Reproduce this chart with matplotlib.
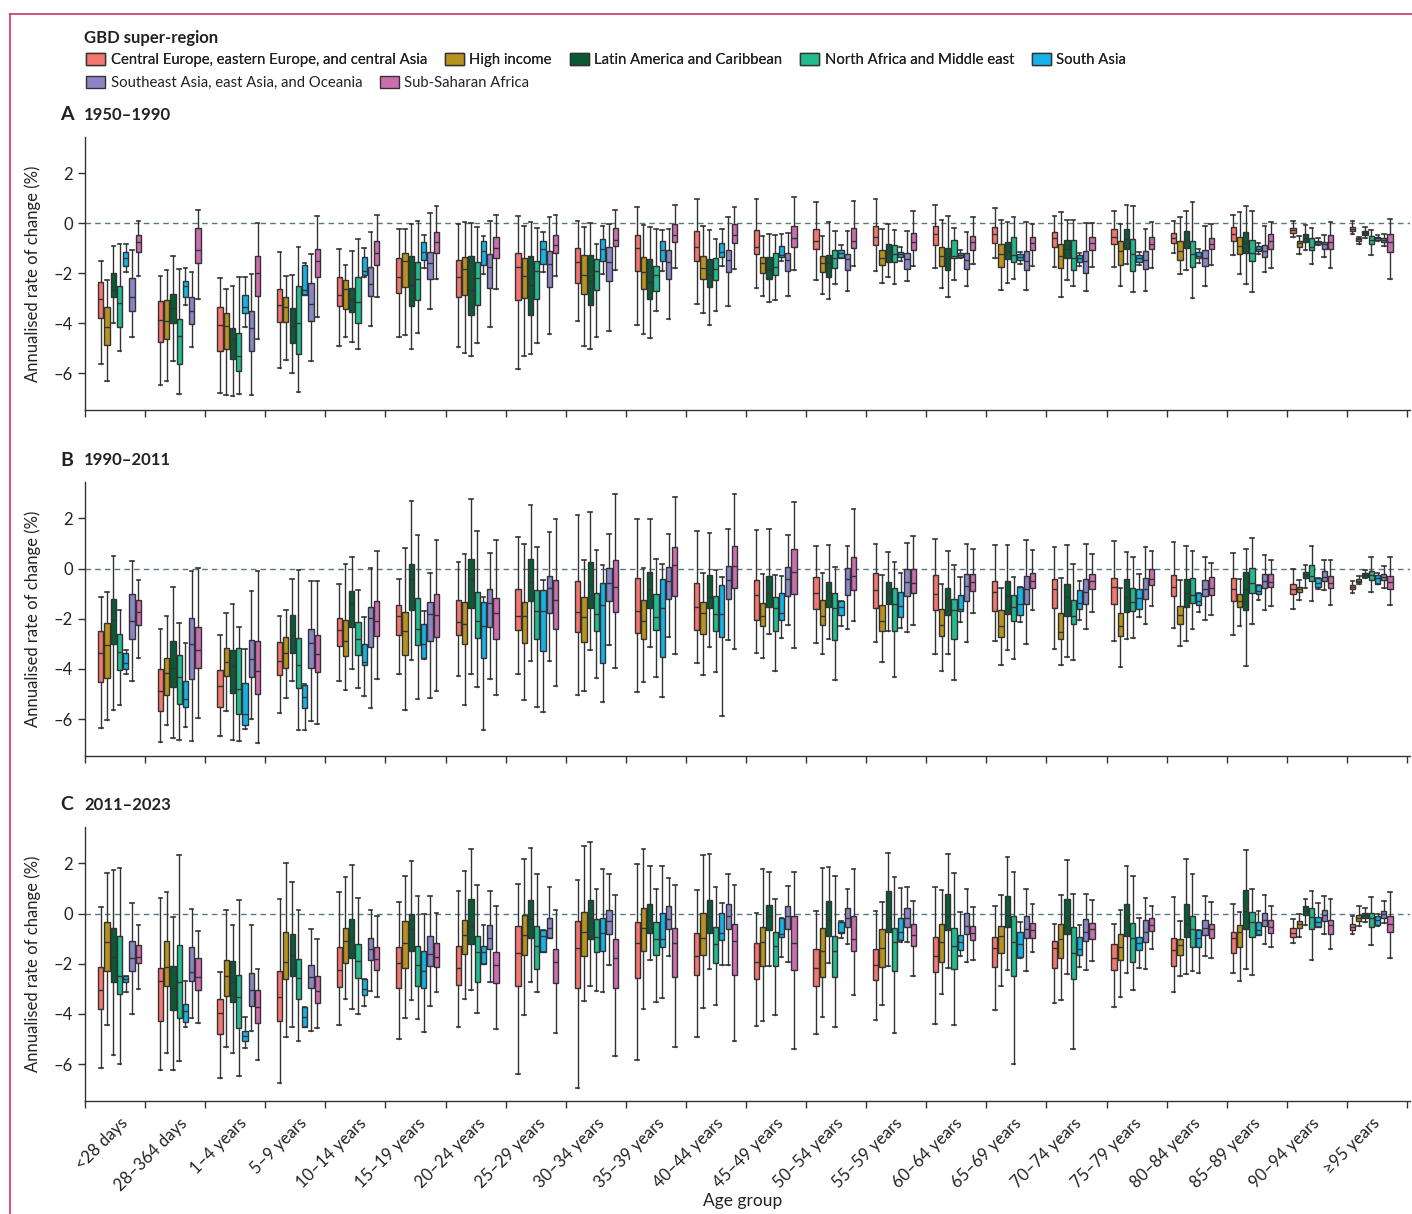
import numpy as np
import matplotlib
matplotlib.use('Agg')
import matplotlib.pyplot as plt
from matplotlib.patches import Patch
from matplotlib.lines import Line2D

plt.rcParams['font.family'] = ['Lato', 'DejaVu Sans']

regions = ["Central Europe, eastern Europe, and central Asia", "High income",
           "Latin America and Caribbean", "North Africa and Middle east", "South Asia",
           "Southeast Asia, east Asia, and Oceania", "Sub-Saharan Africa"]
colors = ["#f4766e", "#b8921e", "#0b5a36", "#22bb90", "#14b2e6", "#8a85c4", "#cc6db0"]

ages = ["<28 days", "28–364 days", "1–4 years", "5–9 years", "10–14 years", "15–19 years",
        "20–24 years", "25–29 years", "30–34 years", "35–39 years", "40–44 years",
        "45–49 years", "50–54 years", "55–59 years", "60–64 years", "65–69 years",
        "70–74 years", "75–79 years", "80–84 years", "85–89 years", "90–94 years", "≥95 years"]

# each row = one age group, 7 regions, (whisker low, q1, median, q3, whisker high)
p1950_1990 = [
    [(-5.63,-3.8,-3.04,-2.33,-1.49), (-6.32,-4.88,-4.16,-3.33,-2.28), (-4.0,-2.95,-2.67,-1.97,-0.92), (-5.12,-4.15,-3.17,-2.51,-0.81), (-1.96,-1.71,-1.4,-1.13,-0.84), (-4.55,-3.49,-2.96,-2.2,-1.08), (-2.12,-1.15,-0.75,-0.47,0.08)],
    [(-6.48,-4.75,-3.88,-3.11,-2.12), (-6.31,-4.64,-3.92,-3.07,-1.87), (-5.51,-3.99,-3.4,-2.81,-1.29), (-6.84,-5.63,-4.52,-3.81,-1.84), (-3.25,-2.95,-2.52,-2.31,-1.77), (-4.95,-4.03,-3.52,-2.96,-1.93), (-3.01,-1.57,-1.08,-0.2,0.55)],
    [(-6.79,-5.09,-4.08,-3.36,-2.2), (-6.88,-5.01,-4.09,-3.6,-2.64), (-6.89,-5.41,-4.63,-4.2,-2.49), (-6.81,-5.89,-5.31,-4.4,-2.13), (-4.15,-3.6,-3.36,-2.88,-2.13), (-6.88,-5.09,-4.19,-3.52,-2.03), (-4.64,-2.91,-1.99,-1.31,0.0)],
    [(-5.77,-3.95,-3.28,-2.61,-1.13), (-5.45,-3.95,-3.35,-2.93,-2.11), (-5.97,-4.79,-4.12,-3.4,-2.05), (-6.76,-5.23,-3.99,-2.52,-0.96), (-2.87,-2.85,-2.65,-1.68,-1.6), (-5.52,-3.91,-3.21,-2.39,-1.21), (-3.76,-2.15,-1.52,-1.04,0.28)],
    [(-4.89,-3.29,-2.87,-2.16,-1.03), (-4.56,-3.41,-2.63,-2.28,-1.67), (-4.75,-3.56,-3.04,-2.57,-1.11), (-5.01,-3.99,-3.16,-2.16,-0.61), (-2.16,-2.05,-1.89,-1.36,-0.99), (-4.12,-2.91,-2.44,-1.75,-0.36), (-2.93,-1.65,-1.17,-0.72,0.33)],
    [(-4.55,-2.79,-2.16,-1.37,-0.24), (-4.48,-2.55,-1.52,-1.19,-0.23), (-5.01,-3.32,-2.45,-1.31,-0.03), (-4.39,-3.07,-2.21,-1.55,0.1), (-1.77,-1.47,-1.15,-0.75,-0.47), (-3.44,-2.23,-1.59,-1.15,0.4), (-2.21,-1.17,-0.76,-0.36,0.68)],
    [(-4.93,-2.93,-2.13,-1.48,-0.03), (-5.17,-2.88,-1.84,-1.35,0.05), (-5.32,-3.67,-2.68,-1.29,0.01), (-4.8,-3.25,-2.19,-1.55,-0.15), (-2.01,-1.68,-1.12,-0.72,-0.52), (-4.16,-2.59,-1.73,-1.23,0.09), (-2.63,-1.39,-0.99,-0.56,0.32)],
    [(-5.83,-3.05,-1.76,-1.19,0.29), (-5.32,-2.99,-2.11,-1.37,-0.12), (-5.24,-3.65,-2.47,-1.31,0.05), (-4.79,-3.03,-1.89,-1.49,-0.19), (-1.96,-1.61,-1.03,-0.69,-0.36), (-4.44,-2.53,-1.63,-1.12,0.27), (-2.12,-1.19,-0.85,-0.45,0.35)],
    [(-3.89,-2.4,-1.56,-0.99,0.11), (-4.91,-2.83,-2.05,-1.25,-0.16), (-5.01,-3.27,-2.29,-1.27,0.01), (-4.53,-2.67,-1.92,-1.44,-0.83), (-2.03,-1.49,-1.01,-0.64,-0.12), (-4.32,-2.32,-1.55,-0.95,-0.03), (-1.88,-0.91,-0.65,-0.19,0.53)],
    [(-4.05,-1.89,-0.99,-0.45,0.64), (-4.41,-2.61,-1.96,-1.36,-0.07), (-4.59,-3.01,-2.35,-1.41,-0.16), (-3.52,-2.72,-2.05,-1.69,-0.21), (-1.92,-1.49,-1.08,-0.72,-0.25), (-3.84,-2.24,-1.56,-1.05,-0.21), (-1.79,-0.75,-0.48,-0.03,0.75)],
    [(-3.21,-1.52,-0.95,-0.32,0.96), (-3.59,-2.24,-1.79,-1.31,-0.09), (-4.07,-2.56,-2.08,-1.43,-0.28), (-3.51,-2.27,-1.83,-1.4,-0.61), (-1.69,-1.36,-1.15,-0.8,-0.23), (-3.32,-1.96,-1.48,-1.08,0.25), (-1.83,-0.77,-0.45,-0.04,0.67)],
    [(-2.6,-1.21,-0.93,-0.25,0.99), (-2.89,-1.97,-1.59,-1.36,-0.51), (-3.13,-2.23,-1.87,-1.35,-0.43), (-3.05,-2.05,-1.76,-1.19,-0.48), (-1.52,-1.35,-1.28,-0.92,-0.43), (-2.92,-1.89,-1.48,-1.19,-0.4), (-1.85,-0.95,-0.59,-0.11,1.04)],
    [(-2.25,-1.03,-0.69,-0.23,0.87), (-2.81,-1.93,-1.59,-1.31,-0.51), (-3.03,-2.13,-1.6,-1.25,0.04), (-2.44,-1.79,-1.39,-1.07,-0.29), (-1.39,-1.39,-1.19,-1.07,-0.87), (-2.72,-1.87,-1.41,-1.21,-0.32), (-1.71,-1.0,-0.69,-0.2,0.91)],
    [(-1.92,-0.85,-0.55,-0.11,0.96), (-2.39,-1.68,-1.39,-1.08,-0.24), (-2.16,-1.53,-1.15,-0.84,-0.04), (-2.41,-1.53,-1.23,-0.87,-0.28), (-1.49,-1.33,-1.23,-1.13,-0.95), (-2.31,-1.81,-1.41,-1.17,-0.29), (-1.71,-1.07,-0.75,-0.39,0.48)],
    [(-1.8,-0.87,-0.44,-0.09,0.72), (-2.6,-1.69,-1.31,-0.96,0.15), (-2.96,-1.87,-1.39,-0.97,0.31), (-2.28,-1.39,-1.32,-0.67,-0.17), (-1.39,-1.33,-1.25,-1.17,-1.07), (-2.52,-1.81,-1.47,-1.19,-0.36), (-1.64,-1.05,-0.75,-0.52,0.24)],
    [(-1.4,-0.77,-0.41,-0.15,0.6), (-2.68,-1.73,-1.23,-0.81,0.13), (-2.39,-1.43,-1.11,-0.76,0.04), (-2.23,-1.55,-1.28,-0.56,0.24), (-1.61,-1.48,-1.35,-1.24,-1.15), (-2.65,-1.88,-1.49,-1.12,0.05), (-1.72,-1.05,-0.79,-0.56,-0.01)],
    [(-1.76,-0.95,-0.57,-0.33,0.28), (-2.93,-1.79,-1.31,-0.84,0.44), (-2.25,-1.39,-1.01,-0.68,0.15), (-2.51,-1.88,-1.39,-0.68,0.13), (-1.72,-1.56,-1.4,-1.25,-1.17), (-2.69,-1.97,-1.49,-1.12,0.01), (-1.76,-1.05,-0.79,-0.56,0.03)],
    [(-1.76,-0.84,-0.53,-0.23,0.51), (-2.51,-1.67,-1.11,-0.69,-0.03), (-1.61,-1.01,-0.64,-0.21,0.75), (-2.76,-1.89,-1.23,-0.64,0.71), (-1.65,-1.53,-1.39,-1.28,-1.15), (-2.72,-1.81,-1.45,-1.12,-0.23), (-1.8,-1.04,-0.81,-0.53,0.04)],
    [(-1.17,-0.77,-0.6,-0.4,0.09), (-2.03,-1.47,-1.09,-0.72,0.24), (-1.85,-1.0,-0.65,-0.32,0.48), (-2.99,-1.75,-1.23,-0.72,0.85), (-1.59,-1.4,-1.29,-1.16,-1.04), (-2.49,-1.69,-1.37,-1.07,-0.12), (-1.67,-1.04,-0.81,-0.59,-0.03)],
    [(-1.28,-0.69,-0.44,-0.16,0.33), (-2.04,-1.24,-0.91,-0.56,0.47), (-2.41,-1.17,-0.77,-0.36,0.68), (-2.75,-1.52,-1.19,-0.68,0.49), (-1.23,-1.09,-1.01,-0.92,-0.79), (-1.95,-1.36,-1.11,-0.85,-0.11), (-1.8,-1.04,-0.72,-0.43,0.05)],
    [(-0.53,-0.37,-0.28,-0.19,0.08), (-1.21,-0.95,-0.8,-0.69,-0.51), (-1.05,-0.75,-0.57,-0.43,-0.07), (-1.63,-1.05,-0.93,-0.57,-0.2), (-0.88,-0.84,-0.76,-0.71,-0.6), (-1.35,-1.01,-0.84,-0.75,-0.45), (-1.77,-1.03,-0.75,-0.47,0.07)],
    [(-0.43,-0.32,-0.23,-0.15,0.08), (-0.81,-0.69,-0.64,-0.59,-0.55), (-0.59,-0.48,-0.37,-0.31,-0.15), (-1.28,-0.84,-0.65,-0.51,-0.25), (-0.69,-0.65,-0.6,-0.56,-0.48), (-0.91,-0.75,-0.65,-0.6,-0.43), (-2.21,-1.15,-0.75,-0.41,0.17)],
]

p1990_2011 = [
    [(-6.35,-4.53,-3.36,-2.49,-1.13), (-6.03,-4.36,-3.03,-2.15,-0.93), (-5.65,-3.0,-2.03,-1.21,0.49), (-5.45,-4.05,-3.33,-2.59,-1.65), (-4.2,-3.99,-3.75,-3.35,-3.25), (-4.49,-2.79,-2.08,-1.03,0.32), (-3.56,-2.25,-1.72,-1.24,-0.45)],
    [(-6.93,-5.68,-4.87,-4.0,-2.41), (-6.25,-5.04,-4.16,-3.56,-1.88), (-6.77,-4.72,-3.95,-2.87,-0.73), (-6.84,-5.4,-4.32,-3.45,-2.17), (-6.32,-5.53,-5.2,-4.47,-2.97), (-6.87,-4.39,-2.99,-1.96,-0.11), (-5.95,-3.97,-3.25,-2.32,0.04)],
    [(-6.69,-5.51,-4.68,-4.04,-2.64), (-5.68,-4.27,-3.72,-3.16,-1.76), (-6.84,-4.97,-3.87,-3.23,-1.41), (-6.88,-5.8,-4.8,-3.15,-2.31), (-6.4,-6.23,-5.8,-4.55,-3.2), (-6.0,-4.31,-3.59,-2.83,-0.88), (-6.95,-5.0,-4.09,-2.88,-0.09)],
    [(-5.77,-4.24,-3.68,-2.92,-1.91), (-5.17,-3.97,-3.36,-2.73,-1.65), (-4.49,-3.36,-2.64,-1.85,-0.43), (-6.43,-4.75,-3.83,-2.77,-0.07), (-6.43,-5.55,-5.12,-4.63,-4.6), (-6.09,-3.96,-2.96,-2.41,-0.48), (-6.21,-4.11,-3.4,-2.63,-0.49)],
    [(-4.49,-3.07,-2.43,-1.96,-0.6), (-4.85,-3.48,-2.89,-2.03,0.17), (-3.99,-2.33,-1.37,-0.91,0.47), (-4.75,-3.43,-2.8,-2.11,-0.84), (-5.08,-3.85,-3.72,-2.99,-1.95), (-5.55,-3.13,-1.97,-1.52,0.03), (-4.41,-2.67,-2.09,-1.28,0.72)],
    [(-4.19,-2.64,-1.91,-1.44,-0.41), (-5.63,-3.43,-2.49,-1.75,0.83), (-3.64,-1.65,-0.43,0.19,2.71), (-5.21,-3.05,-2.41,-1.16,1.35), (-3.59,-3.56,-3.0,-2.2,-1.68), (-5.16,-2.88,-1.83,-1.33,-0.16), (-4.88,-2.72,-1.84,-1.03,1.13)],
    [(-4.28,-2.65,-2.11,-1.24,0.28), (-5.45,-3.0,-2.21,-1.35,0.6), (-4.2,-1.59,-0.43,0.4,2.77), (-4.73,-2.75,-2.07,-0.93,1.48), (-6.43,-3.56,-2.29,-1.32,-1.12), (-4.41,-2.33,-1.37,-0.83,0.63), (-5.03,-2.8,-1.76,-1.19,1.12)],
    [(-4.19,-2.44,-1.89,-0.8,1.25), (-5.23,-2.95,-1.88,-1.35,0.97), (-3.67,-1.31,-0.55,0.37,2.55), (-5.52,-2.79,-1.71,-0.87,0.87), (-5.73,-3.28,-1.68,-0.87,-0.47), (-3.69,-1.76,-0.79,-0.31,1.44), (-4.68,-2.39,-1.24,-0.47,1.99)],
    [(-5.04,-2.53,-1.72,-0.51,2.12), (-4.87,-2.93,-1.92,-1.15,0.33), (-3.25,-1.59,-0.64,0.27,2.27), (-4.35,-2.47,-1.8,-0.96,0.73), (-5.32,-3.75,-1.45,-0.56,0.16), (-3.03,-1.28,-0.59,0.03,1.37), (-3.95,-1.73,-0.72,0.33,2.99)],
    [(-4.93,-2.57,-1.69,-0.39,1.96), (-4.53,-2.81,-2.07,-1.24,0.01), (-3.12,-1.56,-0.81,-0.12,1.97), (-4.31,-2.44,-1.92,-1.0,0.37), (-5.13,-3.52,-1.59,-0.43,0.19), (-2.72,-1.23,-0.49,0.08,1.36), (-3.39,-1.09,0.16,0.87,2.87)],
    [(-3.76,-2.44,-1.55,-0.59,1.48), (-4.23,-2.59,-1.76,-1.32,-0.16), (-3.13,-1.59,-1.12,-0.24,1.4), (-4.12,-2.47,-1.81,-1.08,-0.07), (-5.88,-2.73,-1.81,-0.65,-0.35), (-2.83,-1.21,-0.45,0.12,1.56), (-3.19,-0.79,0.09,0.88,2.97)],
    [(-3.36,-2.04,-1.04,-0.45,1.53), (-3.55,-2.28,-1.88,-1.36,-0.21), (-2.6,-1.55,-0.96,-0.29,1.56), (-4.08,-2.47,-1.56,-1.12,-0.24), (-2.76,-2.03,-1.79,-0.97,-0.28), (-2.24,-1.08,-0.43,0.08,1.32), (-3.17,-1.01,-0.15,0.76,2.67)],
    [(-2.97,-1.63,-0.96,-0.32,0.88), (-3.39,-2.23,-1.88,-1.25,-0.16), (-2.8,-1.53,-0.95,-0.52,0.92), (-4.45,-2.85,-1.59,-0.96,0.07), (-2.27,-1.87,-1.52,-1.29,-1.28), (-2.4,-1.07,-0.41,0.04,0.88), (-2.09,-0.85,-0.28,0.48,2.39)],
    [(-2.91,-1.57,-0.85,-0.19,0.97), (-3.72,-2.47,-2.07,-1.47,-0.25), (-2.47,-1.41,-0.96,-0.55,0.68), (-4.33,-2.47,-1.43,-0.76,0.28), (-2.35,-1.92,-1.51,-0.92,-0.16), (-2.52,-1.09,-0.55,-0.01,1.0), (-2.25,-0.96,-0.56,-0.03,1.28)],
    [(-3.4,-1.64,-1.01,-0.25,1.16), (-4.08,-2.68,-2.23,-1.63,-0.63), (-3.4,-1.84,-1.17,-0.76,0.72), (-4.43,-2.8,-1.67,-1.21,0.15), (-2.13,-1.71,-1.6,-1.04,-0.35), (-2.92,-1.29,-0.71,-0.2,0.96), (-1.77,-0.91,-0.55,-0.23,0.79)],
    [(-2.87,-1.69,-0.92,-0.48,0.95), (-3.85,-2.73,-2.29,-1.65,-0.79), (-3.25,-1.81,-1.08,-0.48,0.92), (-3.61,-2.09,-1.53,-1.07,-0.33), (-2.11,-1.84,-1.4,-0.73,-0.73), (-3.01,-1.4,-0.8,-0.29,1.13), (-1.67,-0.77,-0.48,-0.17,0.75)],
    [(-3.21,-1.57,-0.83,-0.41,0.84), (-3.85,-2.79,-2.51,-1.79,-0.36), (-3.51,-1.88,-1.12,-0.6,0.92), (-3.63,-2.21,-1.89,-1.24,0.2), (-2.05,-1.6,-1.37,-0.87,-0.49), (-2.41,-1.43,-0.93,-0.41,0.96), (-1.75,-0.81,-0.51,-0.2,0.57)],
    [(-2.87,-1.41,-0.75,-0.39,1.08), (-3.92,-2.68,-2.27,-1.79,-0.77), (-2.8,-1.73,-1.12,-0.4,0.68), (-2.76,-1.69,-1.32,-0.79,0.48), (-1.93,-1.6,-1.19,-0.8,-0.21), (-2.2,-1.21,-0.83,-0.36,0.84), (-1.49,-0.67,-0.4,-0.03,0.71)],
    [(-2.36,-1.11,-0.73,-0.24,1.05), (-3.07,-2.19,-1.85,-1.49,-0.45), (-2.88,-1.55,-0.96,-0.4,0.88), (-2.4,-1.37,-1.07,-0.39,0.72), (-1.75,-1.47,-1.28,-0.96,-0.96), (-2.04,-1.11,-0.81,-0.45,0.48), (-1.84,-1.05,-0.76,-0.35,0.21)],
    [(-2.65,-1.31,-0.81,-0.37,0.61), (-2.27,-1.55,-1.28,-1.03,-0.43), (-3.89,-1.65,-0.83,-0.12,0.79), (-2.21,-0.99,-0.59,0.01,1.23), (-1.24,-1.0,-0.88,-0.67,-0.67), (-1.64,-0.77,-0.51,-0.2,0.53), (-1.49,-0.75,-0.52,-0.21,0.36)],
    [(-1.63,-1.01,-0.81,-0.6,-0.03), (-1.24,-0.92,-0.83,-0.75,-0.44), (-0.76,-0.39,-0.24,-0.12,0.16), (-1.31,-0.49,-0.28,0.13,0.88), (-0.81,-0.75,-0.56,-0.36,-0.36), (-0.85,-0.49,-0.35,-0.11,0.35), (-1.45,-0.79,-0.59,-0.31,0.36)],
    [(-0.96,-0.8,-0.72,-0.67,-0.51), (-0.63,-0.55,-0.48,-0.43,-0.31), (-0.39,-0.35,-0.25,-0.19,-0.07), (-0.95,-0.45,-0.25,-0.09,0.47), (-0.63,-0.6,-0.39,-0.27,-0.17), (-0.79,-0.45,-0.35,-0.23,0.11), (-1.45,-0.8,-0.55,-0.28,0.47)],
]

p2011_2023 = [
    [(-6.16,-3.79,-3.03,-2.12,0.28), (-4.45,-2.29,-1.15,-0.32,1.6), (-5.65,-2.72,-1.75,-0.56,1.75), (-6.01,-3.21,-2.47,-0.89,1.81), (-3.11,-2.73,-2.61,-2.49,-2.49), (-4.01,-2.27,-1.79,-1.11,0.41), (-3.0,-1.97,-1.72,-1.27,-0.44)],
    [(-6.23,-4.29,-2.68,-2.16,0.61), (-5.57,-2.87,-2.12,-1.08,0.87), (-6.23,-3.85,-2.95,-2.09,-0.15), (-5.87,-4.16,-2.72,-1.25,2.35), (-4.52,-4.33,-3.88,-3.61,-2.69), (-4.16,-2.68,-2.31,-1.35,0.19), (-4.37,-3.04,-2.51,-1.79,-0.69)],
    [(-6.56,-4.79,-3.97,-3.41,-2.33), (-5.33,-3.27,-2.48,-1.84,0.16), (-5.55,-3.53,-2.71,-1.91,-0.44), (-6.49,-4.57,-3.31,-2.43,0.56), (-5.36,-5.09,-4.87,-4.68,-4.11), (-4.68,-3.67,-3.05,-2.36,-0.47), (-5.83,-4.37,-3.73,-3.03,-2.2)],
    [(-6.75,-4.27,-3.31,-2.27,0.6), (-4.93,-2.6,-1.92,-0.72,2.0), (-4.53,-2.47,-1.65,-0.83,1.27), (-5.09,-3.4,-2.56,-1.83,0.16), (-4.52,-4.52,-4.11,-3.72,-3.72), (-4.68,-2.97,-2.52,-2.03,-0.61), (-4.56,-3.56,-3.08,-2.48,-1.0)],
    [(-4.45,-2.93,-2.24,-1.32,0.87), (-3.4,-1.96,-1.11,-0.59,1.44), (-3.8,-1.76,-0.99,-0.21,1.95), (-4.01,-2.57,-1.89,-1.23,0.64), (-3.68,-3.23,-2.99,-2.61,-2.61), (-3.08,-1.87,-1.4,-0.97,0.16), (-3.33,-2.23,-1.83,-1.35,-0.11)],
    [(-4.99,-2.95,-1.99,-1.32,0.48), (-4.15,-2.15,-1.19,-0.28,1.48), (-3.44,-1.49,-0.63,-0.01,2.09), (-4.2,-2.87,-2.05,-1.29,0.69), (-4.73,-2.96,-2.29,-1.49,-0.03), (-3.68,-2.08,-1.63,-0.88,0.69), (-3.12,-2.12,-1.73,-1.16,0.03)],
    [(-4.53,-2.83,-2.15,-1.31,0.88), (-3.41,-1.61,-0.85,-0.24,1.68), (-3.04,-1.2,-0.51,0.6,2.59), (-3.96,-2.73,-1.52,-0.91,1.15), (-2.01,-2.01,-1.55,-1.31,-0.44), (-2.71,-1.41,-0.97,-0.47,0.88), (-4.61,-2.77,-2.03,-1.52,0.29)],
    [(-6.41,-2.87,-1.59,-0.49,1.16), (-4.05,-1.67,-0.85,-0.07,2.19), (-2.71,-0.99,-0.21,0.56,2.63), (-3.12,-2.19,-1.29,-0.49,1.56), (-1.55,-1.55,-0.88,-0.67,-0.67), (-0.99,-0.99,-0.56,-0.16,1.07), (-4.75,-2.75,-1.95,-1.4,0.16)],
    [(-6.96,-2.97,-1.39,-0.28,1.35), (-3.47,-1.69,-0.73,0.05,2.68), (-2.87,-1.03,-0.19,0.56,2.85), (-3.08,-1.53,-0.93,-0.21,0.97), (-3.12,-1.49,-0.76,-0.19,1.77), (-2.03,-0.81,-0.31,0.16,1.56), (-5.67,-2.96,-1.76,-1.03,0.75)],
    [(-5.85,-2.55,-1.19,-0.35,1.96), (-3.8,-1.49,-0.57,0.24,2.56), (-1.85,-0.79,-0.25,0.39,1.91), (-3.53,-1.65,-1.01,-0.35,0.96), (-3.35,-1.35,-1.03,0.04,1.89), (-1.71,-0.61,-0.2,0.31,1.4), (-5.33,-2.53,-1.19,-0.56,1.12)],
    [(-4.93,-2.44,-1.68,-0.79,0.95), (-3.77,-1.65,-0.96,0.01,2.33), (-2.2,-0.79,-0.09,0.53,2.39), (-3.65,-1.96,-1.21,-0.52,1.07), (-2.04,-1.07,-0.79,0.01,0.44), (-2.05,-0.61,-0.09,0.4,1.59), (-5.08,-2.45,-1.09,-0.4,1.15)],
    [(-4.48,-2.61,-1.92,-1.19,0.03), (-4.29,-2.07,-1.15,-0.52,1.79), (-2.07,-0.67,-0.08,0.36,1.67), (-4.05,-2.07,-1.29,-0.72,0.57), (-1.73,-0.93,-0.81,-0.17,-0.17), (-1.92,-0.63,-0.08,0.32,1.09), (-5.4,-2.23,-1.19,-0.08,1.67)],
    [(-4.8,-2.89,-2.17,-1.43,0.12), (-4.11,-2.53,-1.48,-0.59,1.81), (-1.99,-0.91,-0.27,0.52,1.84), (-4.52,-2.53,-1.48,-0.89,1.48), (-0.99,-0.79,-0.72,-0.35,-0.28), (-1.23,-0.52,-0.16,0.21,0.96), (-3.25,-1.49,-1.01,-0.09,1.76)],
    [(-4.23,-2.63,-2.04,-1.41,0.11), (-3.63,-2.13,-1.39,-0.61,0.45), (-2.08,-0.72,-0.17,0.88,2.4), (-4.77,-2.29,-1.15,-0.59,1.45), (-1.15,-1.05,-0.75,-0.17,1.0), (-1.12,-0.52,-0.19,0.21,1.05), (-2.47,-1.31,-0.87,-0.43,0.52)],
    [(-4.41,-2.33,-1.68,-0.92,1.04), (-3.2,-1.93,-1.12,-0.4,0.92), (-2.17,-0.65,-0.09,0.77,2.39), (-4.44,-2.19,-1.28,-0.59,1.63), (-1.68,-1.47,-1.12,-0.85,0.08), (-1.95,-0.83,-0.51,0.01,0.99), (-1.85,-1.04,-0.76,-0.48,0.27)],
    [(-3.85,-2.11,-1.37,-0.92,0.29), (-2.88,-1.59,-0.89,-0.48,0.73), (-2.24,-0.55,-0.05,0.71,2.24), (-6.0,-2.49,-1.15,-0.11,1.64), (-1.77,-1.75,-1.21,-0.72,-0.33), (-2.28,-0.96,-0.61,-0.08,0.99), (-1.52,-0.96,-0.67,-0.36,0.37)],
    [(-3.56,-2.17,-1.39,-1.08,-0.4), (-3.45,-1.77,-1.03,-0.41,0.73), (-2.39,-0.8,-0.16,0.6,2.13), (-5.4,-2.6,-1.59,-0.52,0.76), (-2.12,-1.65,-1.43,-0.95,-0.45), (-2.23,-1.08,-0.72,-0.21,0.77), (-1.88,-1.0,-0.63,-0.36,0.56)],
    [(-3.71,-2.23,-1.76,-1.21,-0.43), (-3.33,-1.85,-1.33,-0.83,0.15), (-2.37,-0.91,-0.16,0.39,1.88), (-3.04,-1.93,-0.96,-0.36,1.49), (-2.15,-1.47,-1.19,-0.95,-0.16), (-2.19,-1.13,-0.72,-0.24,0.61), (-1.43,-0.69,-0.45,-0.17,0.31)],
    [(-3.13,-2.09,-1.45,-0.97,0.67), (-2.48,-1.65,-1.25,-1.0,-0.31), (-2.4,-0.93,-0.43,0.39,2.19), (-2.27,-1.33,-0.61,-0.11,1.56), (-2.35,-1.33,-0.99,-0.67,-0.67), (-1.68,-0.85,-0.56,-0.24,0.69), (-1.76,-0.96,-0.63,-0.41,0.45)],
    [(-2.36,-1.56,-0.96,-0.72,0.37), (-2.68,-1.35,-0.75,-0.47,0.07), (-2.2,-0.63,0.11,0.92,2.53), (-2.44,-0.95,-0.32,0.07,0.96), (-0.87,-0.87,-0.65,-0.32,0.11), (-1.21,-0.48,-0.24,0.01,0.75), (-1.33,-0.79,-0.53,-0.24,0.29)],
    [(-1.17,-0.93,-0.76,-0.59,-0.23), (-0.92,-0.59,-0.43,-0.31,-0.01), (-0.47,-0.07,0.12,0.32,0.57), (-1.84,-0.63,-0.12,0.24,0.88), (-0.55,-0.55,-0.32,-0.12,0.43), (-0.8,-0.31,-0.05,0.15,0.69), (-1.4,-0.83,-0.45,-0.25,0.59)],
    [(-0.8,-0.64,-0.53,-0.43,-0.08), (-0.48,-0.31,-0.19,-0.05,0.31), (-0.32,-0.19,-0.05,0.04,0.24), (-1.25,-0.52,-0.17,0.04,0.68), (-0.48,-0.44,-0.24,-0.08,0.0), (-0.37,-0.19,0.0,0.12,0.52), (-1.77,-0.75,-0.43,-0.08,0.87)],
]

panels = [("A", "1950–1990", p1950_1990), ("B", "1990–2011", p1990_2011), ("C", "2011–2023", p2011_2023)]

W, H = 1412, 1214
fig = plt.figure(figsize=(W / 100, H / 100), dpi=100)

# pixel positions of the three panels (top, bottom)
rows = [(137, 410), (482, 756), (827, 1101)]
edge = "#333333"
txt = "#222222"
step = 0.105

for k, (letter, period, data) in enumerate(panels):
    top, bot = rows[k]
    ax = fig.add_axes([85 / W, 1 - bot / H, (1410 - 85) / W, (bot - top) / H])
    for j in range(7):
        stats = []
        for i in range(len(ages)):
            lo, q1, md, q3, hi = data[i][j]
            stats.append(dict(whislo=lo, q1=q1, med=md, q3=q3, whishi=hi, fliers=[]))
        pos = np.arange(len(ages)) + (j - 3) * step
        ax.bxp(stats, positions=pos, widths=0.088, patch_artist=True,
               showfliers=False, capwidths=0.06,
               boxprops=dict(facecolor=colors[j], edgecolor=edge, linewidth=1.0),
               medianprops=dict(color=edge, linewidth=1.0),
               whiskerprops=dict(color=edge, linewidth=1.0),
               capprops=dict(color=edge, linewidth=1.2), manage_ticks=False)
    ax.axhline(0, color="#557788", lw=1.0, ls=(0, (4, 3)), zorder=0)
    ax.set_xlim(-0.58, 21.65)
    ax.set_ylim(-7.47, 3.45)
    ax.set_yticks([-6, -4, -2, 0, 2])
    ax.set_yticklabels(["–6", "–4", "–2", "0", "2"])
    ax.set_xticks(np.linspace(-0.58, 21.6, 23))
    ax.set_xticklabels([])
    ax.tick_params(axis="both", which="major", direction="out", length=5, width=1,
                   color=edge, labelsize=12, labelcolor=txt)
    for s in ["top", "right"]:
        ax.spines[s].set_visible(False)
    for s in ["left", "bottom"]:
        ax.spines[s].set_color(edge)
        ax.spines[s].set_linewidth(1.0)
    if k == 2:
        ax.set_xticks(np.arange(len(ages)), minor=True)
        ax.set_xticklabels(ages, minor=True, rotation=45, ha="right",
                           rotation_mode="anchor", fontsize=12, color=txt)
        ax.tick_params(axis="x", which="minor", length=0, pad=10)
    fig.text(33 / W, 1 - (top + bot) / 2 / H, "Annualised rate of change (%)",
             rotation=90, ha="center", va="center", fontsize=12, color=txt)
    fig.text(60 / W, 1 - (top - 22) / H, letter, fontsize=14, fontweight="bold",
             ha="left", va="center", color=txt)
    fig.text(84 / W, 1 - (top - 22) / H, period, fontsize=12, fontweight="bold",
             ha="left", va="center", color=txt)

fig.text(743 / W, 1 - 1201 / H, "Age group", ha="center", va="center",
         fontsize=12.5, color=txt)

# legend
fig.text(84 / W, 1 - 38 / H, "GBD super-region", fontsize=12, fontweight="bold",
         ha="left", va="center", color=txt)
handles = [Patch(facecolor=c, edgecolor=edge, linewidth=1.0) for c in colors]
kw = dict(frameon=False, handlelength=1.3, handleheight=0.9, handletextpad=0.35,
          columnspacing=1.2, borderaxespad=0, borderpad=0, fontsize=10.7,
          loc="center left", labelcolor=txt)
leg1 = fig.legend(handles[:5], regions[:5], ncol=5, bbox_to_anchor=(86 / W, 1 - 60 / H), **kw)
fig.add_artist(leg1)
fig.legend(handles[5:], regions[5:], ncol=2, bbox_to_anchor=(86 / W, 1 - 83 / H), **kw)

# page frame
frame = "#cc3366"
fig.add_artist(Line2D([10 / W, 10 / W], [0, 1 - 14 / H], transform=fig.transFigure, color=frame, lw=1.2))
fig.add_artist(Line2D([10 / W, 1], [1 - 14 / H, 1 - 14 / H], transform=fig.transFigure, color=frame, lw=1.2))

fig.savefig("out.png", dpi=100)
